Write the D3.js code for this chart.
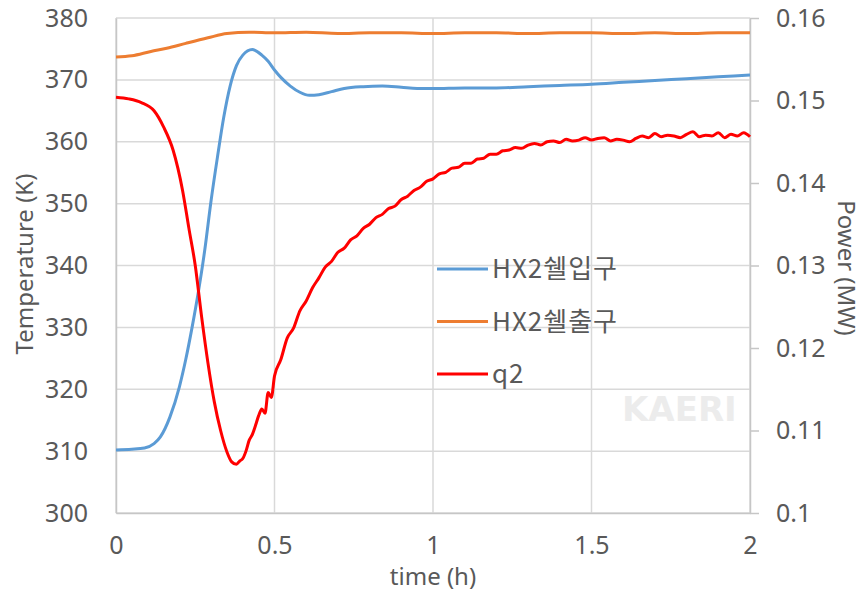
<!DOCTYPE html>
<html>
<head>
<meta charset="utf-8">
<script src="https://cdn.jsdelivr.net/npm/d3@7"></script>
<style>
  body { margin: 0; background: #fff; }
  text { font-family: "Noto Sans", "Noto Sans CJK KR", sans-serif; fill: #595959; }
</style>
</head>
<body>
<div id="chart"></div>
<script>
// time (h) and values
const tInlet = [0, 0.05, 0.09, 0.12, 0.14, 0.17, 0.2, 0.22, 0.24, 0.26, 0.28, 0.3, 0.32, 0.34, 0.36, 0.38, 0.4, 0.43, 0.46, 0.48, 0.5, 0.52, 0.55, 0.58, 0.61, 0.64, 0.68, 0.72, 0.78, 0.84, 0.9, 0.95, 1.0, 1.1, 1.2, 1.3, 1.4, 1.5, 1.6, 1.7, 1.8, 1.9, 2.0];
const inlet = [310.2, 310.3, 310.5, 311.2, 312.3, 315.5, 320.4, 324.8, 330.0, 335.8, 342.5, 350.5, 357.5, 364.0, 369.0, 372.3, 374.0, 374.9, 374.0, 373.0, 371.6, 370.4, 369.0, 368.0, 367.5, 367.6, 368.1, 368.6, 368.9, 369.0, 368.8, 368.6, 368.6, 368.7, 368.7, 368.9, 369.1, 369.3, 369.6, 369.9, 370.2, 370.5, 370.8];

const tOutlet = [0, 0.05, 0.11, 0.16, 0.22, 0.29, 0.35, 0.42, 0.5, 0.6, 0.7, 0.8, 0.9, 1.0, 1.1, 1.2, 1.3, 1.4, 1.5, 1.6, 1.7, 1.8, 1.9, 2.0];
const outlet = [373.7, 373.9, 374.6, 375.1, 375.9, 376.8, 377.5, 377.7, 377.6, 377.7, 377.5, 377.6, 377.6, 377.5, 377.6, 377.6, 377.5, 377.6, 377.6, 377.5, 377.6, 377.5, 377.6, 377.6];

const tQ2 = [0, 0.04, 0.08, 0.12, 0.15, 0.18, 0.21, 0.23, 0.25, 0.27, 0.29, 0.31, 0.33, 0.35, 0.365, 0.38, 0.39, 0.4, 0.41, 0.42, 0.43,
  0.44, 0.45, 0.46, 0.47, 0.48, 0.49, 0.5, 0.52, 0.54, 0.56, 0.58, 0.6, 0.62, 0.64, 0.66, 0.68, 0.7, 0.72, 0.74, 0.76, 0.78, 0.8,
  0.82, 0.84, 0.86, 0.88, 0.9, 0.92, 0.94, 0.96, 0.98, 1.0, 1.02, 1.04, 1.06, 1.08, 1.1, 1.12, 1.14, 1.16, 1.18, 1.2,
  1.22, 1.24, 1.26, 1.28, 1.3, 1.32, 1.34, 1.36, 1.38, 1.4, 1.42, 1.44, 1.46, 1.48, 1.5, 1.52, 1.54, 1.56, 1.58, 1.6,
  1.62, 1.64, 1.66, 1.68, 1.7, 1.72, 1.74, 1.76, 1.78, 1.8, 1.82, 1.84, 1.86, 1.88, 1.9, 1.92, 1.94, 1.96, 1.98, 2.0];
const q2 = [0.1504, 0.1502, 0.14975, 0.14875, 0.1468, 0.1440, 0.1391, 0.1345, 0.1300, 0.1238, 0.1182, 0.1135, 0.1100, 0.1074, 0.1062, 0.1059, 0.1063, 0.1066, 0.1075, 0.1088, 0.1095,
  0.1106, 0.1118, 0.1126, 0.1121, 0.1146, 0.1140, 0.1166, 0.1186, 0.1212, 0.1224, 0.1245, 0.1257, 0.1273, 0.1285, 0.1298, 0.1305, 0.1316, 0.1321, 0.1331, 0.1336, 0.1345, 0.1350,
  0.1358, 0.1362, 0.1369, 0.1372, 0.1380, 0.1384, 0.1391, 0.1395, 0.1402, 0.1405, 0.1411, 0.1413, 0.1418, 0.1419, 0.1424, 0.1424, 0.1429, 0.1430, 0.1435, 0.1435,
  0.1439, 0.1440, 0.1443, 0.1442, 0.1446, 0.1448, 0.1446, 0.1450, 0.1451, 0.1449, 0.1453, 0.1451, 0.1452, 0.1455, 0.1452, 0.1454, 0.1455, 0.1451, 0.1453, 0.1452,
  0.1450, 0.1454, 0.1457, 0.1455, 0.1460, 0.1456, 0.1458, 0.1457, 0.1455, 0.1459, 0.1462, 0.1456, 0.1458, 0.1457, 0.1461, 0.1455, 0.1459, 0.1457, 0.1461, 0.1456];

const seriesNames = ["HX2쉘입구", "HX2쉘출구", "q2"];
const seriesColors = ["#5B9BD5", "#ED7D31", "#FF0000"];

const xTicks = [0, 0.5, 1, 1.5, 2];
const tempTicks = [300, 310, 320, 330, 340, 350, 360, 370, 380];
const powerTicks = [0.1, 0.11, 0.12, 0.13, 0.14, 0.15, 0.16];

const W = 864, H = 592;
const plot = {left: 116, right: 750, top: 18, bottom: 513};

const svg = d3.select("#chart").append("svg")
    .attr("width", W)
    .attr("height", H);

const x = d3.scaleLinear().domain([0, 2]).range([plot.left, plot.right]);
const yT = d3.scaleLinear().domain([300, 380]).range([plot.bottom, plot.top]);
const yP = d3.scaleLinear().domain([0.1, 0.16]).range([plot.bottom, plot.top]);

// faint watermark
svg.append("text")
    .attr("x", 622).attr("y", 421)
    .style("font-family", "DejaVu Sans")
    .style("font-weight", "bold")
    .style("font-size", "34px")
    .style("fill", "#ececec")
    .text("KAERI");

// grid
svg.append("g")
    .selectAll("line")
    .data(tempTicks)
    .enter().append("line")
    .attr("x1", plot.left).attr("x2", plot.right)
    .attr("y1", d => yT(d)).attr("y2", d => yT(d))
    .attr("stroke", "#d9d9d9").attr("stroke-width", 1.5);

svg.append("g")
    .selectAll("line")
    .data(xTicks)
    .enter().append("line")
    .attr("x1", d => x(d)).attr("x2", d => x(d))
    .attr("y1", plot.top).attr("y2", plot.bottom)
    .attr("stroke", "#d9d9d9").attr("stroke-width", 1.5);

// axes
const xAxis = svg.append("g")
    .attr("transform", `translate(0,${plot.bottom})`)
    .call(d3.axisBottom(x).tickValues(xTicks).tickFormat(d3.format("~g")).tickSize(0).tickPadding(23));

const leftAxis = svg.append("g")
    .attr("transform", `translate(${plot.left},0)`)
    .call(d3.axisLeft(yT).tickValues(tempTicks).tickSize(0).tickPadding(28));

const rightAxis = svg.append("g")
    .attr("transform", `translate(${plot.right},0)`)
    .call(d3.axisRight(yP).tickValues(powerTicks).tickFormat(d3.format("~g")).tickSize(9).tickSizeOuter(0).tickPadding(17));

[xAxis, leftAxis, rightAxis].forEach(a => {
    a.select(".domain").attr("stroke", "#c6c6c6").attr("stroke-width", 1.5);
    a.selectAll(".tick line").attr("stroke", "#c6c6c6").attr("stroke-width", 1.5);
    a.selectAll("text").style("font-size", "25px").attr("fill", "#595959");
});

// lines
const lineT = d3.line().x(d => x(d[0])).y(d => yT(d[1])).curve(d3.curveMonotoneX);
const lineP = d3.line().x(d => x(d[0])).y(d => yP(d[1])).curve(d3.curveMonotoneX);

svg.append("path")
    .datum(d3.zip(tOutlet, outlet))
    .attr("d", lineT)
    .attr("fill", "none").attr("stroke", seriesColors[1]).attr("stroke-width", 3);

svg.append("path")
    .datum(d3.zip(tInlet, inlet))
    .attr("d", lineT)
    .attr("fill", "none").attr("stroke", seriesColors[0]).attr("stroke-width", 3);

svg.append("path")
    .datum(d3.zip(tQ2, q2))
    .attr("d", lineP)
    .attr("fill", "none").attr("stroke", seriesColors[2]).attr("stroke-width", 3)
    .attr("stroke-linejoin", "round");

// axis titles
svg.append("text")
    .attr("transform", "translate(33,264) rotate(-90)")
    .attr("text-anchor", "middle")
    .style("font-size", "24px")
    .text("Temperature (K)");

svg.append("text")
    .attr("transform", "translate(838,268) rotate(90)")
    .attr("text-anchor", "middle")
    .style("font-size", "24px")
    .text("Power (MW)");

svg.append("text")
    .attr("x", 433).attr("y", 585)
    .attr("text-anchor", "middle")
    .style("font-size", "24px")
    .text("time (h)");

// legend
const legend = svg.append("g")
    .selectAll("g")
    .data(seriesNames)
    .enter().append("g")
    .attr("transform", (d, i) => `translate(437,${269 + i * 52.5})`);

legend.append("line")
    .attr("x1", 0).attr("x2", 51)
    .attr("stroke", (d, i) => seriesColors[i])
    .attr("stroke-width", 3);

legend.append("text")
    .attr("x", 55).attr("y", 9)
    .style("font-family", "'Noto Sans CJK KR', 'Noto Sans', sans-serif")
    .style("font-size", "26px")
    .style("letter-spacing", "1px")
    .text(d => d);
</script>
</body>
</html>
